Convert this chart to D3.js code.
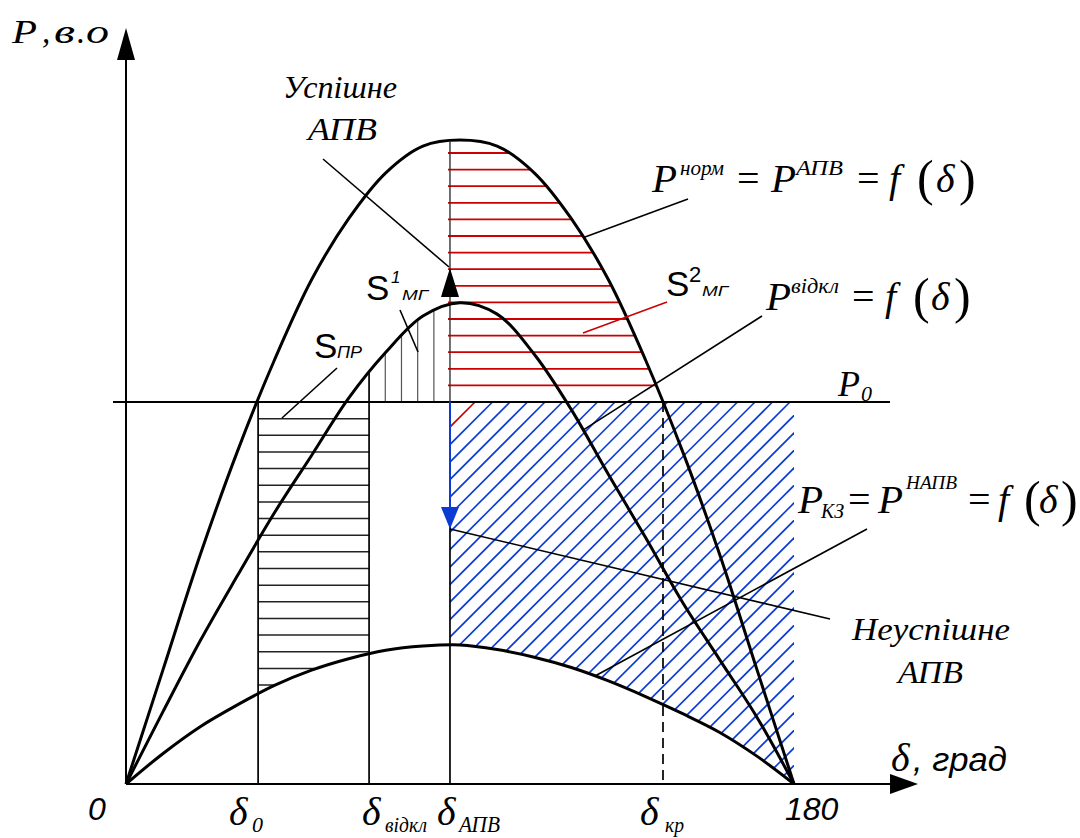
<!DOCTYPE html>
<html><head><meta charset="utf-8">
<script src="https://cdn.jsdelivr.net/npm/d3@7"></script>
<style>body{margin:0;background:#fff}svg{display:block}</style>
</head><body>
<svg id="c" width="1080" height="838"></svg>
<script>
// ---------- data ----------
const deltaDeg = [0,10,20,30,40,50,60,70,80,90,100,110,120,130,140,150,160,170,180];
const pNorm   = [0,0.30,0.60,0.87,1.11,1.32,1.48,1.60,1.67,1.686,1.67,1.60,1.48,1.32,1.11,0.87,0.60,0.30,0];
const pOff    = [0,0.19,0.375,0.545,0.71,0.86,1.01,1.13,1.225,1.26,1.23,1.125,0.98,0.81,0.645,0.475,0.325,0.175,0];
const pFault  = [0,0.08,0.15,0.207,0.258,0.298,0.328,0.350,0.361,0.364,0.352,0.332,0.305,0.27,0.229,0.184,0.135,0.073,0];
const P0 = 1.0;
const delta0 = 35.6, deltaOff = 65.5, deltaAPV = 87.3, deltaKr = 144.7;
const xTickValues = [0, 180];
const xTickLabels = ["0", "180"];

// ---------- setup ----------
const svg = d3.select("#c");
const defs = svg.append("defs");
const x = d3.scaleLinear().domain([0,180]).range([126,794]);
const y = d3.scaleLinear().domain([0,1]).range([784,402]);
const SERIF = "'Liberation Serif', 'Times New Roman', serif";
const SANS  = "'Liberation Sans', Arial, sans-serif";
const RED = "#cc0000", BLUE = "#0b3bd4";
const crv = d3.curveCatmullRom.alpha(0.5);
const series = v => deltaDeg.map((d,i)=>[d,v[i]]);
const line = d3.line().x(d=>x(d[0])).y(d=>y(d[1])).curve(crv);
function at(vals, d){
  const i = Math.min(deltaDeg.length-2, Math.max(0, d3.bisectRight(deltaDeg,d)-1));
  const t = (d-deltaDeg[i])/(deltaDeg[i+1]-deltaDeg[i]);
  return vals[i] + t*(vals[i+1]-vals[i]);
}
function region(id, vals, d1, d2, padL, padR){
  const a = d3.area().x(d=>x(d[0])).y0(y(P0)).y1(d=>y(d[1])).curve(crv);
  defs.append("clipPath").attr("id",id+"A").append("path").attr("d", a(series(vals)));
  defs.append("clipPath").attr("id",id+"R").append("rect")
    .attr("x", x(d1)-(padL||0)).attr("y",0).attr("width", x(d2)-x(d1)+(padL||0)+(padR||0)).attr("height",838);
  return svg.append("g").attr("clip-path",`url(#${id}R)`).append("g").attr("clip-path",`url(#${id}A)`);
}

// ---------- hatches ----------
const gRed = region("red", pNorm, deltaAPV, deltaKr, 2, 0);
gRed.selectAll("line").data(d3.range(1,16)).join("line")
  .attr("x1", x(deltaAPV)-2).attr("x2", x(deltaKr))
  .attr("y1", k=>y(P0)-16.6*k).attr("y2", k=>y(P0)-16.6*k)
  .attr("stroke", RED).attr("stroke-width",1.8);

const gBlue = region("blue", pFault, deltaAPV, 180, 0, 3);
gBlue.selectAll("line").data(d3.range(0,44)).join("line")
  .attr("x1", k=>877+17.5*k-402).attr("y1", 402)
  .attr("x2", k=>877+17.5*k-800).attr("y2", 800)
  .attr("stroke", k=>k===0?RED:BLUE).attr("stroke-width",1.6);

const gPr = region("pr", pFault, delta0, deltaOff, 0, 0);
gPr.selectAll("line").data(d3.range(1,18)).join("line")
  .attr("x1", x(delta0)).attr("x2", x(deltaOff))
  .attr("y1", k=>y(P0)+16.65*k).attr("y2", k=>y(P0)+16.65*k)
  .attr("stroke", "#222").attr("stroke-width",1.5);

const gMg = region("mg", pOff, deltaOff, deltaAPV, 0, 0);
gMg.selectAll("line").data(d3.range(1,5)).join("line")
  .attr("x1", k=>x(deltaOff)+16.2*k).attr("x2", k=>x(deltaOff)+16.2*k)
  .attr("y1", y(P0)).attr("y2", 250)
  .attr("stroke", "#555").attr("stroke-width",1.2);

// ---------- reference lines ----------
svg.append("line").attr("x1",113).attr("x2",890).attr("y1",y(P0)).attr("y2",y(P0))
  .attr("stroke","#000").attr("stroke-width",2);
svg.append("line").attr("x1",x(delta0)).attr("x2",x(delta0)).attr("y1",y(P0)).attr("y2",y(0))
  .attr("stroke","#000").attr("stroke-width",1.7);
svg.append("line").attr("x1",x(deltaOff)).attr("x2",x(deltaOff)).attr("y1",y(at(pOff,deltaOff))).attr("y2",y(0))
  .attr("stroke","#000").attr("stroke-width",1.7);
svg.append("line").attr("x1",x(deltaAPV)).attr("x2",x(deltaAPV)).attr("y1",y(at(pNorm,deltaAPV))).attr("y2",y(P0))
  .attr("stroke","#333").attr("stroke-width",1.4);
svg.append("line").attr("x1",x(deltaAPV)).attr("x2",x(deltaAPV)).attr("y1",y(P0)).attr("y2",510)
  .attr("stroke",BLUE).attr("stroke-width",2);
svg.append("line").attr("x1",x(deltaAPV)).attr("x2",x(deltaAPV)).attr("y1",526).attr("y2",y(0))
  .attr("stroke","#000").attr("stroke-width",1.7);
svg.append("line").attr("x1",x(deltaKr)).attr("x2",x(deltaKr)).attr("y1",y(P0)).attr("y2",y(0))
  .attr("stroke","#000").attr("stroke-width",1.7).attr("stroke-dasharray","10,6");

// ---------- curves ----------
[pNorm, pOff, pFault].forEach(v=>{
  svg.append("path").attr("d", line(series(v))).attr("fill","none")
    .attr("stroke","#000").attr("stroke-width",3).attr("stroke-linejoin","round");
});

// ---------- axes ----------
svg.append("line").attr("x1",x(0)).attr("x2",892).attr("y1",y(0)).attr("y2",y(0)).attr("stroke","#000").attr("stroke-width",2);
svg.append("line").attr("x1",x(0)).attr("x2",x(0)).attr("y1",y(0)).attr("y2",58).attr("stroke","#000").attr("stroke-width",2);
const tri = (pts,fill)=>svg.append("path").attr("d","M"+pts.map(p=>p.join(",")).join("L")+"Z").attr("fill",fill);
tri([[918,y(0)],[890,y(0)-10],[890,y(0)+10]],"#000");
tri([[x(0),28],[x(0)-9,60],[x(0)+9,60]],"#000");
tri([[x(deltaAPV),268],[x(deltaAPV)-9,297],[x(deltaAPV)+9,297]],"#000");
tri([[x(deltaAPV),529],[x(deltaAPV)-9,507],[x(deltaAPV)+9,507]],BLUE);

// ---------- leader lines ----------
const dx = px => (px-126)*180/668;
const leaders = [
  [[323,159],[x(deltaAPV)-1,267],"#000"],
  [[688,199],[583,y(at(pNorm,dx(583)))],"#000"],
  [[667,302],[583,333],RED],
  [[762,316],[583,y(at(pOff,dx(583)))],"#000"],
  [[867,529],[595,y(at(pFault,dx(595)))],"#000"],
  [[830,619],[x(deltaAPV),529],"#000"],
  [[400,310],[418,352],"#000"],
  [[337,368],[282,418],"#000"]
];
leaders.forEach(([a,b,c])=>svg.append("line").attr("x1",a[0]).attr("y1",a[1]).attr("x2",b[0]).attr("y2",b[1])
  .attr("stroke",c).attr("stroke-width",1.6));

// ---------- text ----------
function T(t, px, py, o){
  const e = svg.append("text").attr("x",px).attr("y",py).text(t)
    .style("font-family", o.f||SERIF).style("font-size", o.s+"px")
    .style("font-style", o.it===false?"normal":"italic").attr("fill","#000");
  if(o.len){ e.attr("textLength",o.len).attr("lengthAdjust","spacingAndGlyphs"); }
  return e;
}
// y-axis label
T("P", 12, 43, {s:33, len:25}); T(",", 42, 43, {s:33}); T("в", 54, 43, {s:33, len:21});
T(".", 77, 43, {s:33}); T("о", 86, 43, {s:33, len:23});
T("Успішне", 283, 98, {s:31, len:114});
T("АПВ", 308, 140, {s:31, len:69});
T("Неуспішне", 852, 640, {s:32, len:158});
T("АПВ", 898, 683, {s:31, len:65});

xTickValues.forEach((v,i)=>{
  T(xTickLabels[i], i===0? x(v)-38 : x(v)-9, 820, {s:32, f:SANS});
});
T("δ", 229, 825, {s:40}); T("0", 252, 832, {s:22});
T("δ", 362, 825, {s:40}); T("відкл", 385, 832, {s:21, len:42});
T("δ", 437, 825, {s:40}); T("АПВ", 459, 832, {s:23, len:41});
T("δ", 640, 825, {s:40}); T("кр", 665, 832, {s:22, len:19});
T("δ", 891, 771, {s:40}); T(", град", 913, 771, {s:33, f:SANS, len:94});

T("P", 838, 396, {s:36}); T("0", 861, 401, {s:22});

T("S", 366, 300, {s:35, f:SANS, it:false});
T("1", 391, 283, {s:17, f:SANS});
T("МГ", 402, 300, {s:15, f:SANS, len:26});
T("S", 314, 358, {s:35, f:SANS, it:false});
T("ПР", 337, 358, {s:16, f:SANS, len:25});
T("S", 666, 296, {s:35, f:SANS, it:false});
T("2", 689, 282, {s:22, f:SANS, it:false});
T("МГ", 702, 296, {s:15, f:SANS, len:26});

function formula(parts){ parts.forEach(p=>T(p[0],p[1],p[2],p[3])); }
formula([
  ["P",652,192,{s:41}],["норм",680,175,{s:22,len:44}],["=",737,192,{s:40,it:false}],
  ["P",771,192,{s:41}],["АПВ",796,175,{s:21,len:47}],["=",857,192,{s:40,it:false}],
  ["f",889,192,{s:40}],["(",917,195,{s:50,it:false}],["δ",936,192,{s:40}],[")",959,195,{s:50,it:false}]
]);
formula([
  ["P",766,310,{s:41}],["відкл",791,293,{s:22,len:48}],["=",852,310,{s:40,it:false}],
  ["f",885,310,{s:40}],["(",913,313,{s:50,it:false}],["δ",931,310,{s:40}],[")",954,313,{s:50,it:false}]
]);
formula([
  ["P",798,513,{s:41}],["КЗ",821,518,{s:21,len:23}],["=",848,513,{s:40,it:false}],
  ["P",878,513,{s:41}],["НАПВ",906,489,{s:19,len:51}],["=",968,513,{s:40,it:false}],
  ["f",998,513,{s:40}],["(",1024,516,{s:50,it:false}],["δ",1039,513,{s:40}],[")",1061,516,{s:50,it:false}]
]);
</script>
</body></html>
